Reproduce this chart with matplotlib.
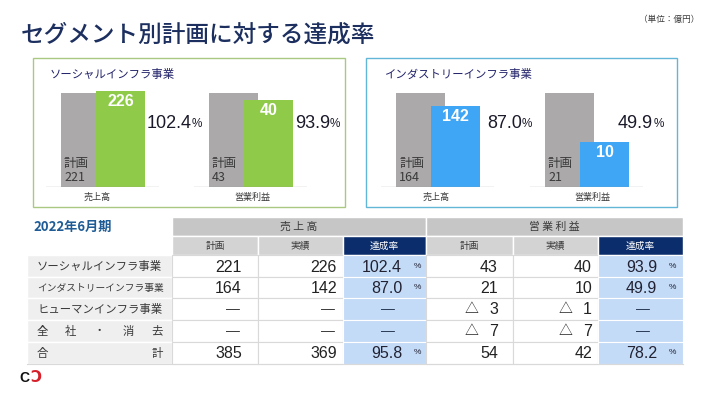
import matplotlib
matplotlib.use("Agg")
import matplotlib.pyplot as plt
from matplotlib.patches import Rectangle

# ---------------- data ----------------
segments = ["ソーシャルインフラ事業", "インダストリーインフラ事業"]
bar_categories = ["売上高", "営業利益"]
social_plan = [221, 43]
social_actual = [226, 40]
social_rate = [102.4, 93.9]
industry_plan = [164, 21]
industry_actual = [142, 10]
industry_rate = [87.0, 49.9]

period_label = "2022年6月期"
row_labels = ["ソーシャルインフラ事業", "インダストリーインフラ事業",
              "ヒューマンインフラ事業", "全社・消去", "合計"]
sales_plan = [221, 164, None, None, 385]
sales_actual = [226, 142, None, None, 369]
sales_rate = [102.4, 87.0, None, None, 95.8]
op_plan = [43, 21, -3, -7, 54]
op_actual = [40, 10, -1, -7, 42]
op_rate = [93.9, 49.9, None, None, 78.2]

title = "セグメント別計画に対する達成率"
unit_note = "（単位：億円）"

# ---------------- style ----------------
W, H = 709, 397
JP = ["Noto Sans CJK JP", "DejaVu Sans"]
NUM = ["Liberation Sans Narrow", "Liberation Sans", "DejaVu Sans"]
NAVY = "#1c2f5f"
GRAY_BAR = "#aba9a9"
GREEN = "#8fca48"
BLUE = "#3ea6f4"
TXT = "#3a3a3a"

fig = plt.figure(figsize=(W / 100, H / 100), dpi=100)
fig.patch.set_facecolor("white")
bg = fig.add_axes([0, 0, 1, 1])
bg.set_xlim(0, W)
bg.set_ylim(H, 0)
bg.axis("off")


def frac(x, y_top, w, h):
    return [x / W, 1 - (y_top + h) / H, w / W, h / H]


# title & unit
bg.text(21, 35, title, family=JP, fontsize=17, color=NAVY, va="center",
        ha="left", fontweight="medium")
bg.text(699, 19, unit_note, family=JP, fontsize=6.2, color=TXT, va="center", ha="right")

# panel boxes
bg.add_patch(Rectangle((33, 58), 312, 149, fill=False, edgecolor="#a9c983", lw=1.0))
bg.add_patch(Rectangle((366, 58), 311, 149, fill=False, edgecolor="#62b6d6", lw=1.0))
bg.text(50, 74, segments[0], family=JP, fontsize=8.2, color="#23236b", va="center")
bg.text(384, 74, segments[1], family=JP, fontsize=8.2, color="#23236b", va="center")

# bar groups
groups = [
    (46, social_plan[0], social_actual[0], social_rate[0], GREEN, 147, 97, bar_categories[0]),
    (194, social_plan[1], social_actual[1], social_rate[1], GREEN, 295, 252, bar_categories[1]),
    (381, industry_plan[0], industry_actual[0], industry_rate[0], BLUE, 487, 436, bar_categories[0]),
    (530, industry_plan[1], industry_actual[1], industry_rate[1], BLUE, 618, 592, bar_categories[1]),
]
AX_W, AX_TOP, BASE = 113, 70, 187
PLAN_H = 94
for left, plan, actual, rate, col, pct_x, cat_x, cat in groups:
    ax = fig.add_axes(frac(left, AX_TOP, AX_W, BASE - AX_TOP))
    ax.set_xlim(0, AX_W)
    ax.set_ylim(0, plan * (BASE - AX_TOP) / PLAN_H)
    ax.axis("off")
    ax.bar(15, plan, width=49, align="edge", color=GRAY_BAR, zorder=2)
    ax.bar(50, actual, width=49, align="edge", color=col, zorder=3)
    ax.axhline(0, color="#9a9a9a", lw=0.9, zorder=4)
    ax.annotate(f"{actual}", xy=(74.5, actual), xytext=(0, -3), textcoords="offset pixels",
                ha="center", va="top", color="white", fontsize=11.5, fontweight="bold",
                family=NUM, zorder=5)
    ax.annotate(f"計画\n{plan}", xy=(15, 0), xytext=(3, 3), textcoords="offset pixels",
                ha="left", va="bottom", color=TXT, fontsize=9, family=JP,
                linespacing=1.05, zorder=5)
    t = bg.text(pct_x, 123, f"{rate:.1f}", family=NUM, fontsize=13, color="#1a1a2a",
                ha="left", va="center")
    bg.annotate("%", xy=(1, 0.08), xycoords=t, ha="left", va="bottom",
                family=NUM, fontsize=8.5, color="#1a1a2a")
    bg.text(cat_x, 197, cat, family=JP, fontsize=6.5, color=TXT, ha="center", va="center")

# ---------------- table ----------------
bg.text(33, 227, period_label, family=JP, fontsize=9.5, color="#1f5c96",
        va="center", ha="left", fontweight="bold")

col_edges = [172, 258, 343, 426, 513, 598, 683]
row_edges = [255, 277, 298, 320, 342, 364]
H1 = (217, 236)
H2 = (236, 255)

# header row 1
bg.add_patch(Rectangle((172, H1[0]), 254, H1[1] - H1[0], facecolor="#c6c6c6",
                       edgecolor="white", lw=1))
bg.add_patch(Rectangle((426, H1[0]), 257, H1[1] - H1[0], facecolor="#c6c6c6",
                       edgecolor="white", lw=1))
bg.text(299, 226.5, "売 上 高", family=JP, fontsize=7.8, color=TXT, ha="center", va="center")
bg.text(554, 226.5, "営 業 利 益", family=JP, fontsize=7.8, color=TXT, ha="center", va="center")

# header row 2
sub = ["計画", "実績", "達成率", "計画", "実績", "達成率"]
for i, s in enumerate(sub):
    x0, x1 = col_edges[i], col_edges[i + 1]
    is_rate = s == "達成率"
    bg.add_patch(Rectangle((x0, H2[0]), x1 - x0, H2[1] - H2[0],
                           facecolor="#0c2d6b" if is_rate else "#d3d3d3",
                           edgecolor="white", lw=1))
    bg.text((x0 + x1) / 2, (H2[0] + H2[1]) / 2 + 0.5, s, family=JP, fontsize=7,
            color="white" if is_rate else TXT, ha="center", va="center")

# body cells
for r in range(5):
    y0, y1 = row_edges[r], row_edges[r + 1]
    bg.add_patch(Rectangle((27, y0), 145, y1 - y0, facecolor="#efefef",
                           edgecolor="white", lw=1))
    for c in range(6):
        x0, x1 = col_edges[c], col_edges[c + 1]
        is_rate = c in (2, 5)
        bg.add_patch(Rectangle((x0, y0), x1 - x0, y1 - y0,
                               facecolor="#c3dbf7" if is_rate else "white",
                               edgecolor="white" if is_rate else "#d9d9d9", lw=0.8))
bg.plot([27, 683], [364, 364], color="#d9d9d9", lw=0.8)

# row labels
for r, lab in enumerate(row_labels):
    yc = (row_edges[r] + row_edges[r + 1]) / 2
    if r < 3:
        fs = 8.2 if len(lab) <= 11 else 7.0
        bg.text(37, yc, lab, family=JP, fontsize=fs, color=TXT, ha="left", va="center")
    else:
        n = len(lab)
        for k, ch in enumerate(lab):
            xc = 42 + k * (157 - 42) / (n - 1)
            bg.text(xc, yc, ch, family=JP, fontsize=8.2, color=TXT, ha="center", va="center")

DASH = "—"


def put_value(val, right, yc, tri_x=None):
    if val is None:
        bg.text(right - 9, yc + 0.5, DASH, family=NUM, fontsize=10, color=TXT,
                ha="center", va="center")
        return
    if val < 0:
        bg.text(tri_x, yc + 0.5, "△", family=JP, fontsize=10, color="#222222",
                ha="center", va="center")
        val = -val
    bg.text(right, yc + 1, f"{val}", family=NUM, fontsize=11.5, color="#222222",
            ha="right", va="center")


def put_rate(val, right, pct_x, yc):
    if val is None:
        bg.text(right - 14, yc + 0.5, DASH, family=NUM, fontsize=10, color="#2a3a55",
                ha="center", va="center")
        return
    bg.text(right, yc + 1, f"{val:.1f}", family=NUM, fontsize=11.5, color="#222233",
            ha="right", va="center")
    bg.text(pct_x, yc, "%", family=NUM, fontsize=6, color="#222233",
            ha="center", va="center")


for r in range(5):
    yc = (row_edges[r] + row_edges[r + 1]) / 2
    put_value(sales_plan[r], 242, yc)
    put_value(sales_actual[r], 337, yc)
    put_rate(sales_rate[r], 402, 417, yc)
    put_value(op_plan[r], 498, yc, tri_x=472)
    put_value(op_actual[r], 592, yc, tri_x=566)
    put_rate(op_rate[r], 657, 672, yc)

# logo
bg.text(19.5, 378, "C", family=NUM, fontsize=10, fontweight="bold", color="#111111",
        ha="left", va="center")
bg.text(30.5, 378, "Ↄ", family=["DejaVu Sans"], fontsize=11, fontweight="bold",
        color="#d6212b", ha="left", va="center")

fig.savefig("out.png", dpi=100, facecolor="white")
